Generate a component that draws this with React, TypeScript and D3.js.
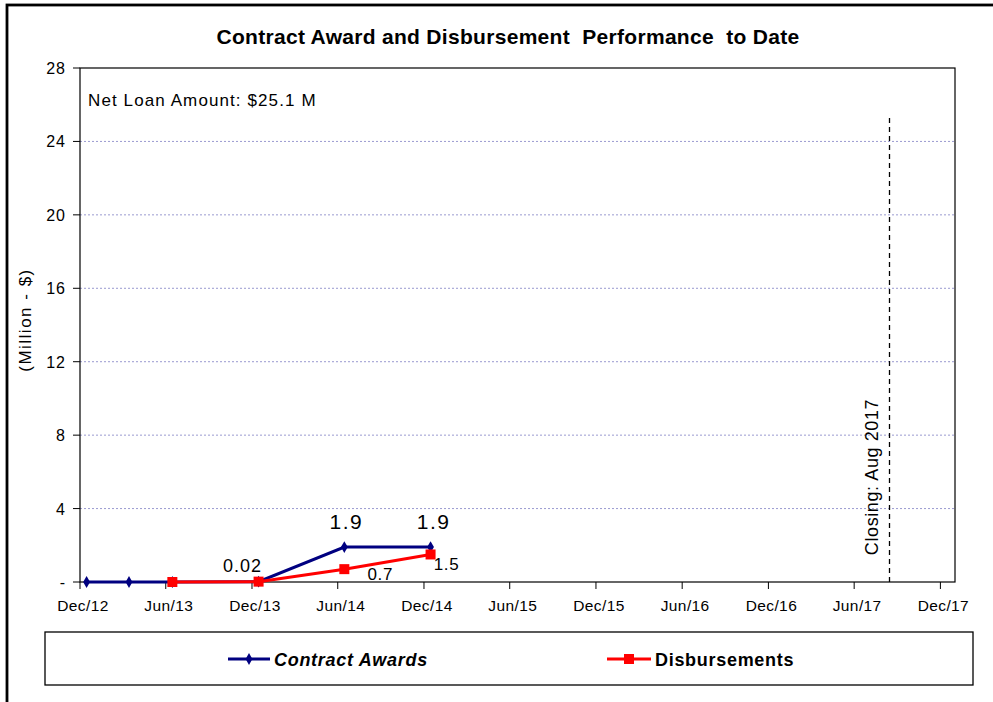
import React from "react";
import * as d3 from "d3";

const awardDates = ["2012-12-15", "2013-03-15", "2013-06-15", "2013-12-15", "2014-06-15", "2014-12-15"];
const awardValues = [0, 0, 0, 0.02, 1.9, 1.9];
const disbDates = ["2013-06-15", "2013-12-15", "2014-06-15", "2014-12-15"];
const disbValues = [0, 0.02, 0.7, 1.5];
const xTickLabels = ["Dec/12", "Jun/13", "Dec/13", "Jun/14", "Dec/14", "Jun/15", "Dec/15", "Jun/16", "Dec/16", "Jun/17", "Dec/17"];
const xTickDates = ["2012-12-01", "2013-06-01", "2013-12-01", "2014-06-01", "2014-12-01", "2015-06-01", "2015-12-01", "2016-06-01", "2016-12-01", "2017-06-01", "2017-12-01"];
const yTicks = [0, 4, 8, 12, 16, 20, 24, 28];
const closingDate = "2017-08-15";

const parse = d3.timeParse("%Y-%m-%d");

export default function App() {
  const W = 993, H = 702;
  const L = 80, R = 955, T = 68, B = 582;
  const x = d3.scaleTime().domain([parse("2012-12-01")!, parse("2018-01-01")!]).range([L, R]);
  const y = d3.scaleLinear().domain([0, 28]).range([B, T]);
  const aw = awardDates.map((d, i) => ({ d: parse(d)!, v: awardValues[i] }));
  const ds = disbDates.map((d, i) => ({ d: parse(d)!, v: disbValues[i] }));
  const line = d3.line<{ d: Date; v: number }>().x(p => x(p.d)).y(p => y(p.v));
  const font = "Arial, 'Liberation Sans', sans-serif";
  const cx = x(parse(closingDate)!);
  const diamond = d3.symbol().type(d3.symbolDiamond).size(40)()!;
  return (
    <svg width={W} height={H} style={{ position: "absolute", left: 0, top: 0, background: "#fff" }} fontFamily={font}>
      <rect x={0} y={0} width={W} height={H} fill="#fff" />
      <rect x={7} y={5} width={1000} height={720} fill="none" stroke="#000" strokeWidth={2.8} />
      <text x={508} y={44} textAnchor="middle" fontSize={21} fontWeight="bold" letterSpacing={0.3} style={{ whiteSpace: "pre" }}>Contract Award and Disbursement  Performance  to Date</text>
      {yTicks.filter(t => t > 0 && t < 28).map(t => (
        <line key={"g" + t} x1={L} x2={R} y1={y(t)} y2={y(t)} stroke="#9a9ad0" strokeWidth={1} strokeDasharray="2,2" />
      ))}
      <rect x={L} y={T} width={R - L} height={B - T} fill="none" stroke="#000" strokeWidth={1.2} />
      {yTicks.map(t => (
        <g key={"y" + t}>
          <line x1={L - 7} x2={L} y1={y(t)} y2={y(t)} stroke="#000" />
          <text x={L - 14} y={y(t) + 6} textAnchor="end" fontSize={16} letterSpacing={1}>{t === 0 ? "-" : t}</text>
        </g>
      ))}
      {xTickDates.map((d, i) => (
        <g key={"x" + i}>
          <line x1={x(parse(d)!)} x2={x(parse(d)!)} y1={B} y2={B + 7} stroke="#000" />
          <text x={x(parse(d)!) + 3} y={B + 29} textAnchor="middle" fontSize={15.5} letterSpacing={0.4}>{xTickLabels[i]}</text>
        </g>
      ))}
      <text transform={`translate(31,${320}) rotate(-90)`} textAnchor="middle" fontSize={17} letterSpacing={1.5}>(Million - $)</text>
      <text x={88} y={106} fontSize={17} letterSpacing={1.1}>Net Loan Amount: $25.1 M</text>
      <line x1={cx} x2={cx} y1={118} y2={B} stroke="#000" strokeWidth={1.3} strokeDasharray="5,4" />
      <text transform={`translate(${cx - 12},${477}) rotate(-90)`} textAnchor="middle" fontSize={18} letterSpacing={0.6}>Closing: Aug 2017</text>
      <path d={line(aw)!} fill="none" stroke="#000080" strokeWidth={3} />
      {aw.map((p, i) => (
        <path key={"a" + i} d={diamond} transform={`translate(${x(p.d)},${y(p.v)})`} fill="#000080" />
      ))}
      <path d={line(ds)!} fill="none" stroke="#ff0000" strokeWidth={3} />
      {ds.map((p, i) => (
        <rect key={"d" + i} x={x(p.d) - 5} y={y(p.v) - 5} width={10} height={10} fill="#ff0000" />
      ))}
      <text x={x(aw[4].d) + 2} y={y(aw[4].v) - 18} textAnchor="middle" fontSize={21} letterSpacing={1.5}>{awardValues[4]}</text>
      <text x={x(aw[5].d) + 3} y={y(aw[5].v) - 18} textAnchor="middle" fontSize={21} letterSpacing={1.5}>{awardValues[5]}</text>
      <text x={x(aw[3].d) - 16} y={y(aw[3].v) - 10} textAnchor="middle" fontSize={18} letterSpacing={1}>{awardValues[3]}</text>
      <text x={x(ds[2].d) + 36} y={y(ds[2].v) + 11} textAnchor="middle" fontSize={17} letterSpacing={0.7}>{disbValues[2]}</text>
      <text x={x(ds[3].d) + 16} y={y(ds[3].v) + 16} textAnchor="middle" fontSize={17} letterSpacing={0.7}>{disbValues[3]}</text>
      <rect x={45} y={632} width={928} height={53} fill="none" stroke="#000" strokeWidth={1.3} />
      <line x1={228} x2={270} y1={659} y2={659} stroke="#000080" strokeWidth={3} />
      <path d={diamond} transform="translate(249,659)" fill="#000080" />
      <text x={274} y={666} fontSize={18} fontWeight="bold" fontStyle="italic" letterSpacing={0.7}>Contract Awards</text>
      <line x1={607} x2={651} y1={659} y2={659} stroke="#ff0000" strokeWidth={3} />
      <rect x={624} y={654} width={10} height={10} fill="#ff0000" />
      <text x={655} y={666} fontSize={18} fontWeight="bold" letterSpacing={0.7}>Disbursements</text>
    </svg>
  );
}
